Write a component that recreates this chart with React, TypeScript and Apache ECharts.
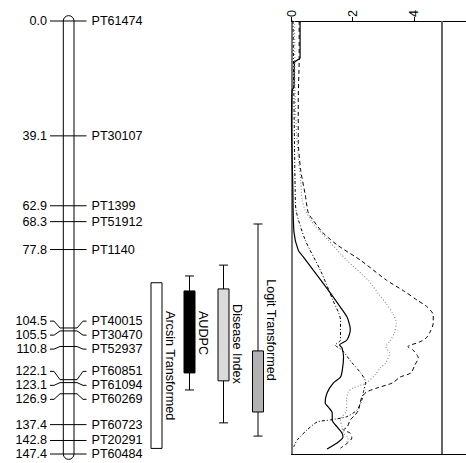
import React, { useEffect, useRef } from "react";
import * as echarts from "echarts";

// ---------- data ----------
const MARKER_NAMES = [
  "PT61474", "PT30107", "PT1399", "PT51912", "PT1140", "PT40015", "PT30470",
  "PT52937", "PT60851", "PT61094", "PT60269", "PT60723", "PT20291", "PT60484",
];
const MARKER_CM = [0.0, 39.1, 62.9, 68.3, 77.8, 104.5, 105.5, 110.8, 122.1, 123.1, 126.9, 137.4, 142.8, 147.4];

const QTL_TRAITS = ["Arcsin Transformed", "AUDPC", "Disease Index", "Logit Transformed"];
const QTL_WHISKER_LO = [89.1, 86.8, 83.1, 69.1];
const QTL_BOX_LO = [89.1, 91.9, 91.2, 112.3];
const QTL_BOX_HI = [145.5, 119.8, 122.5, 133.1];
const QTL_WHISKER_HI = [145.5, 125.6, 136.8, 141.3];
const QTL_HAS_WHISKER = [false, true, true, true];

const LOD_TICKS_INTERVAL = 2;
const LOD_THRESHOLD = 4.9;

// LOD curves: position (cM) and LOD value
const SOLID_CM = [0, 12.6, 14.0, 22.5, 23.5, 35.1, 54.8, 71.8, 78.0, 80.2, 84.8, 89.2, 93.9, 97.3, 100.7, 103.5, 105.2, 108.6, 110.3, 111.3, 114.4, 118.8, 121.2, 123.2, 126.6, 130.0, 131.4, 133.4, 135.8, 138.2, 140.3, 141.6, 143.3, 145.7];
const SOLID_LOD = [0.28, 0.28, 0.1, 0.08, 0.02, 0.0, 0.04, 0.08, 0.22, 0.38, 0.71, 1.03, 1.36, 1.59, 1.81, 1.9, 1.92, 1.81, 1.57, 1.65, 1.7, 1.66, 1.6, 1.37, 1.16, 1.1, 1.2, 1.33, 1.33, 1.49, 1.65, 1.68, 1.53, 1.16];

const DASHED_CM = [0, 13.3, 26.9, 40.5, 50.7, 59.2, 65.4, 67.7, 71.8, 76.3, 81.4, 88.2, 92.1, 95.0, 97.3, 100.1, 102.8, 105.8, 107.9, 109.2, 110.9, 112.0, 114.7, 117.1, 119.8, 121.2, 123.2, 124.9, 126.3, 128.0, 130.0, 132.4, 134.1, 135.8, 138.2, 139.2, 140.3, 142.0, 143.7, 145.4];
const DASHED_LOD = [0.25, 0.25, 0.22, 0.22, 0.3, 0.45, 0.55, 0.7, 1.0, 1.5, 2.25, 3.1, 3.7, 4.1, 4.43, 4.63, 4.63, 4.53, 4.4, 4.2, 3.8, 3.97, 4.14, 4.03, 3.9, 3.55, 3.3, 2.8, 2.45, 2.3, 2.24, 2.19, 2.08, 1.92, 1.82, 1.7, 1.92, 1.97, 1.82, 1.6];

const DOTTED_CM = [0, 27, 44, 54.3, 61, 64.5, 69.5, 74.6, 81.4, 88.2, 93.0, 96.3, 99.4, 102.8, 106.2, 109.2, 110.9, 113.0, 116.4, 118.1, 120.2, 123.2, 124.9, 126.3, 129.0, 132.4, 135.8, 138.2, 140.3, 142.0, 145.0];
const DOTTED_LOD = [0.1, 0.12, 0.2, 0.3, 0.35, 0.45, 0.75, 1.2, 1.8, 2.5, 2.85, 3.1, 3.3, 3.42, 3.36, 3.2, 3.08, 3.2, 3.08, 2.9, 2.75, 2.45, 2.02, 1.85, 1.8, 1.8, 1.6, 1.65, 1.7, 1.85, 1.75];

const DASHDOT_CM = [0, 27, 44, 57.5, 64.5, 74.6, 85, 95, 101.8, 108.6, 110.3, 112.0, 116.4, 119.8, 122.9, 126.2, 129, 132.4, 134.7, 135.8, 136.5, 139.2, 142.6, 145.0];
const DASHDOT_LOD = [0.05, 0.08, 0.1, 0.12, 0.15, 0.45, 0.95, 1.35, 1.6, 1.6, 1.43, 1.65, 1.98, 2.26, 2.42, 2.35, 2.3, 2.14, 1.8, 1.27, 0.84, 0.51, 0.19, 0.07];

// ---------- layout / style ----------
const FONT = "'Liberation Sans', Arial, sans-serif";
const FS = 12.6;
const MAP_W = 291;
const GRID_TOP = 21;
const GRID_H = 433;
const CHR_X = 63.3;
const CHR_W = 10.7;
const LABEL_GAP = 14;
const QTL_X = [156.5, 189.5, 223.5, 258];
const QTL_BOX_W = 11;
const QTL_CAP_W = 9;
const QTL_FILL = ["#ffffff", "#000000", "#dadada", "#b2b2b2"];
const LOD_MAX = 5.7;

function spreadLabels(ys: number[], gap: number): number[] {
  let groups = ys.map((y) => ({ items: [y], top: y }));
  let changed = true;
  while (changed) {
    changed = false;
    for (let i = 0; i < groups.length - 1; i++) {
      const a = groups[i];
      const b = groups[i + 1];
      const aEnd = a.top + (a.items.length - 1) * gap;
      if (b.top - aEnd < gap - 0.6) {
        const items = a.items.concat(b.items);
        const mean = items.reduce((s, v) => s + v, 0) / items.length;
        const top = mean - ((items.length - 1) / 2) * gap;
        groups.splice(i, 2, { items, top });
        changed = true;
        break;
      }
    }
  }
  const out: number[] = [];
  groups.forEach((g) => g.items.forEach((_, k) => out.push(g.top + k * gap)));
  return out;
}

const zip = (a: number[], b: number[]) => a.map((v, i) => [b[i], v]);

export default function App() {
  const ref = useRef<HTMLDivElement>(null);
  useEffect(() => {
    const chart = echarts.init(ref.current!, null, { renderer: "svg" });
    const textStyle = (extra: any) => ({ fontSize: FS, fontFamily: FONT, fill: "#000", ...extra });

    const lineSeries = (name: string, cm: number[], lod: number[], lineStyle: any) => ({
      type: "line",
      name,
      xAxisIndex: 1,
      yAxisIndex: 1,
      data: zip(cm, lod),
      symbol: "none",
      smooth: 0.25,
      lineStyle,
      z: 3,
    });

    const option: any = {
      animation: false,
      grid: [
        { left: 0, top: GRID_TOP, width: MAP_W, height: GRID_H },
        { left: 291.5, top: GRID_TOP, right: 0, height: GRID_H },
      ],
      xAxis: [
        { gridIndex: 0, type: "value", min: 0, max: MAP_W, show: false },
        {
          gridIndex: 1, type: "value", min: 0, max: LOD_MAX, interval: LOD_TICKS_INTERVAL,
          position: "top",
          axisLine: { onZero: false, lineStyle: { color: "#000", width: 1 } },
          axisTick: { show: true, length: 4, lineStyle: { color: "#000" } },
          axisLabel: {
            rotate: -90, margin: 4, fontSize: FS, fontFamily: FONT, color: "#000",
            formatter: (v: number) => (v % LOD_TICKS_INTERVAL === 0 ? String(v) : ""),
          },
          splitLine: { show: false },
        },
        {
          gridIndex: 1, type: "value", min: 0, max: LOD_MAX, position: "bottom",
          axisLine: { onZero: false, lineStyle: { color: "#000", width: 1 } },
          axisTick: { show: false }, axisLabel: { show: false }, splitLine: { show: false },
        },
      ],
      yAxis: [
        { gridIndex: 0, type: "value", min: 0, max: MARKER_CM[MARKER_CM.length - 1], inverse: true, show: false },
        {
          gridIndex: 1, type: "value", min: 0, max: MARKER_CM[MARKER_CM.length - 1], inverse: true,
          axisLine: { show: true, onZero: false, lineStyle: { color: "#555", width: 1.6 } },
          axisTick: { show: false }, axisLabel: { show: false }, splitLine: { show: false },
        },
      ],
      series: [
        // chromosome body
        {
          type: "custom",
          xAxisIndex: 0,
          yAxisIndex: 0,
          data: [[0, MARKER_CM[0], MARKER_CM[MARKER_CM.length - 1]]],
          encode: { x: 0, y: [1, 2] },
          renderItem: (_p: any, api: any) => {
            const t = api.coord([0, api.value(1)])[1];
            const b = api.coord([0, api.value(2)])[1];
            const r = CHR_W / 2;
            return {
              type: "rect",
              shape: { x: CHR_X, y: t - r, width: CHR_W, height: b - t + 2 * r, r },
              style: { fill: "#fff", stroke: "#000", lineWidth: 1 },
            };
          },
          z: 2,
        },
        // markers
        {
          type: "custom",
          xAxisIndex: 0,
          yAxisIndex: 0,
          data: MARKER_CM.map((c, i) => [i, c]),
          encode: { x: 0, y: 1 },
          renderItem: (params: any, api: any) => {
            const i = params.dataIndex;
            const ys = MARKER_CM.map((c) => api.coord([0, c])[1]);
            const ls = spreadLabels(ys, LABEL_GAP);
            const my = ys[i];
            const ly = ls[i];
            const L = CHR_X;
            const R = CHR_X + CHR_W;
            const stroke = { stroke: "#000", lineWidth: 1, fill: null };
            return {
              type: "group",
              children: [
                { type: "line", shape: { x1: L, y1: my, x2: R, y2: my }, style: stroke },
                { type: "polyline", shape: { points: [[50, ly], [54, ly], [60, my], [L, my]] }, style: stroke },
                { type: "polyline", shape: { points: [[R, my], [77, my], [83, ly], [86.5, ly]] }, style: stroke },
                {
                  type: "text", x: 47, y: ly,
                  style: textStyle({ text: MARKER_CM[i].toFixed(1), align: "right", verticalAlign: "middle" }),
                },
                {
                  type: "text", x: 91.5, y: ly,
                  style: textStyle({ text: MARKER_NAMES[i], align: "left", verticalAlign: "middle" }),
                },
              ],
            };
          },
          z: 4,
        },
        // QTL intervals
        {
          type: "custom",
          xAxisIndex: 0,
          yAxisIndex: 0,
          data: QTL_TRAITS.map((_, i) => [i, QTL_WHISKER_LO[i], QTL_BOX_LO[i], QTL_BOX_HI[i], QTL_WHISKER_HI[i]]),
          encode: { x: 0, y: [1, 2, 3, 4] },
          renderItem: (params: any, api: any) => {
            const i = params.dataIndex;
            const cx = QTL_X[i];
            const wl = api.coord([0, api.value(1)])[1];
            const bl = api.coord([0, api.value(2)])[1];
            const bh = api.coord([0, api.value(3)])[1];
            const wh = api.coord([0, api.value(4)])[1];
            const st = { stroke: "#000", lineWidth: 1 };
            const children: any[] = [];
            if (QTL_HAS_WHISKER[i]) {
              children.push(
                { type: "line", shape: { x1: cx, y1: wl, x2: cx, y2: wh }, style: st },
                { type: "line", shape: { x1: cx - QTL_CAP_W / 2, y1: wl, x2: cx + QTL_CAP_W / 2, y2: wl }, style: st },
                { type: "line", shape: { x1: cx - QTL_CAP_W / 2, y1: wh, x2: cx + QTL_CAP_W / 2, y2: wh }, style: st },
              );
            }
            children.push({
              type: "rect",
              shape: { x: cx - QTL_BOX_W / 2, y: bl, width: QTL_BOX_W, height: bh - bl },
              style: { fill: QTL_FILL[i], stroke: "#000", lineWidth: 1 },
            });
            children.push({
              type: "text", x: cx + 13, y: (wl + wh) / 2, rotation: -Math.PI / 2,
              style: textStyle({ text: QTL_TRAITS[i], align: "center", verticalAlign: "middle" }),
            });
            return { type: "group", children };
          },
          z: 2,
        },
        // LOD curves
        lineSeries("solid", SOLID_CM, SOLID_LOD, { color: "#000", width: 1.2, type: "solid" }),
        lineSeries("dashed", DASHED_CM, DASHED_LOD, { color: "#000", width: 1, type: [4, 3] }),
        lineSeries("dotted", DOTTED_CM, DOTTED_LOD, { color: "#888", width: 1.1, type: [1, 2] }),
        {
          ...lineSeries("dashdot", DASHDOT_CM, DASHDOT_LOD, { color: "#000", width: 1, type: [3, 2, 1, 2] }),
          markLine: {
            silent: true,
            symbol: "none",
            label: { show: false },
            lineStyle: { color: "#666", width: 2, type: "solid" },
            data: [{ xAxis: LOD_THRESHOLD }],
          },
        },
      ],
    };
    chart.setOption(option);
    return () => chart.dispose();
  }, []);
  return <div ref={ref} style={{ position: "absolute", left: 0, top: 0, width: 466, height: 463 }} />;
}
